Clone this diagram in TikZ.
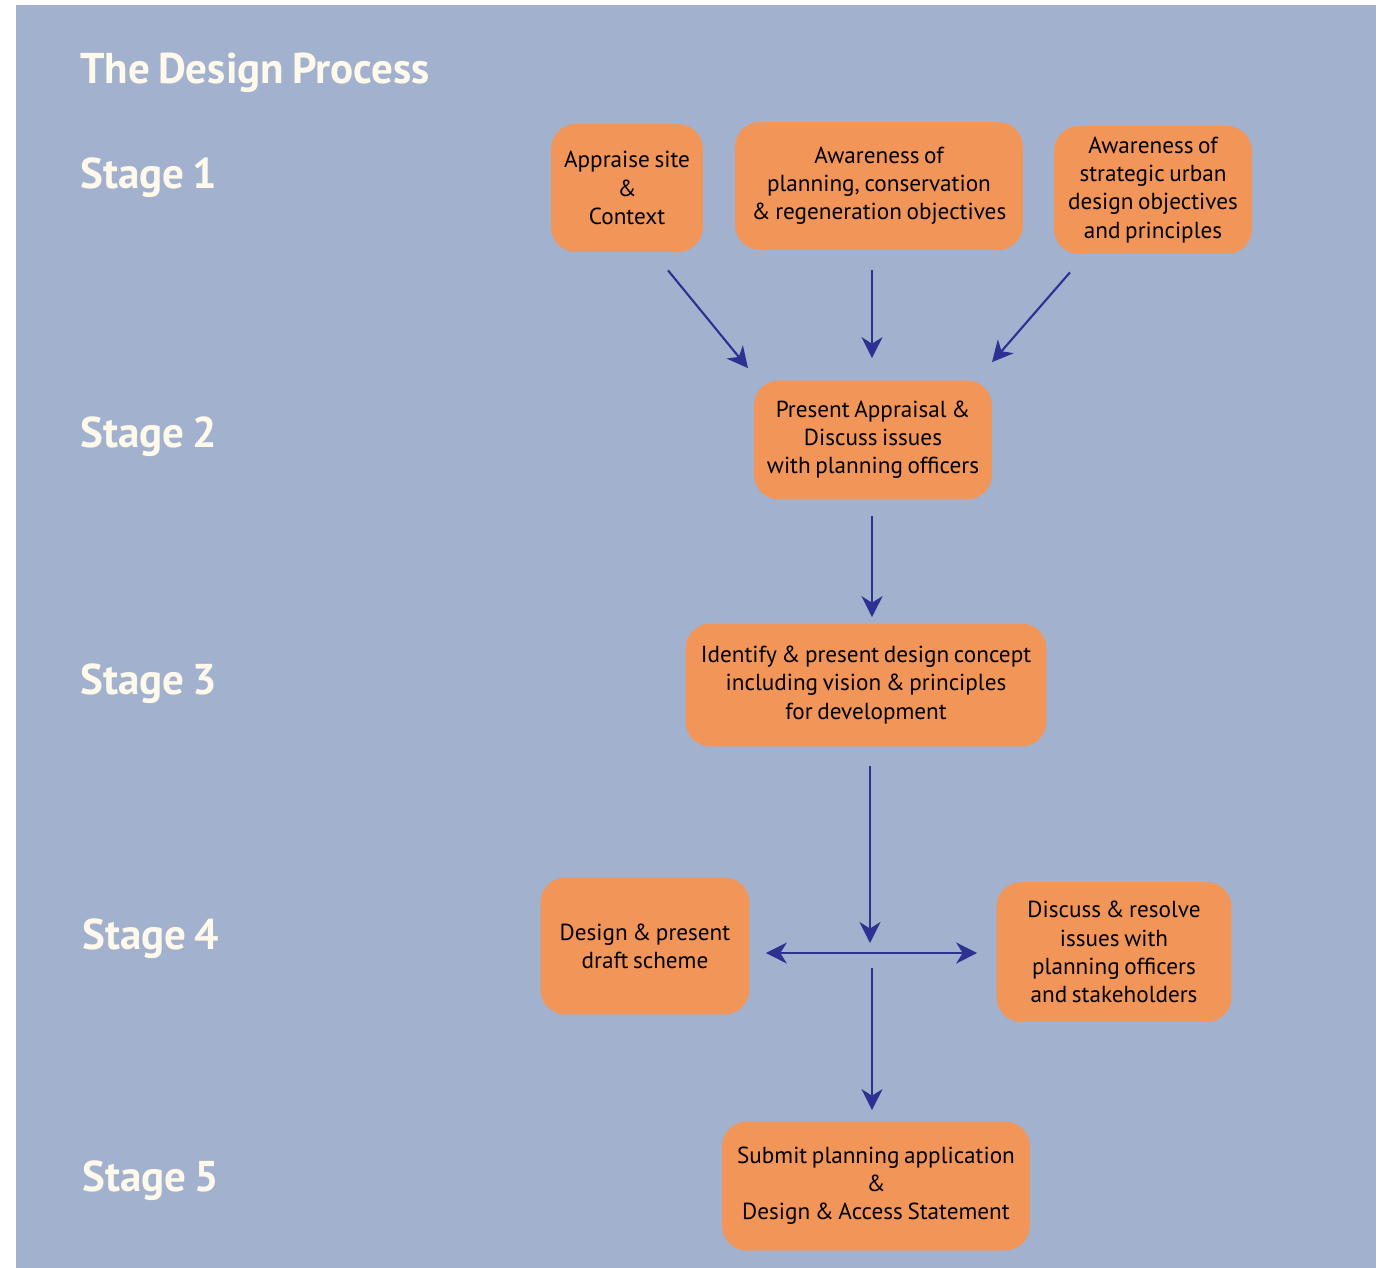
\documentclass[tikz,border=0pt]{standalone}
\usepackage{fontspec}
\setmainfont{PT Sans}[WordSpace=0.75]
\definecolor{backcolor}{HTML}{A2B2CE}
\definecolor{boxcolor}{HTML}{F29559}
\definecolor{arrowcolor}{HTML}{2E3192}
\definecolor{titlecolor}{HTML}{FFF9EC}
\usetikzlibrary{arrows.meta,positioning,calc}
\tikzset{
	block/.style={
		rectangle,
		rounded corners=0.5cm,
		fill=boxcolor,
		align=center,
		font=\fontsize{13.2}{16}\selectfont,
		inner sep=0pt
	},
	stage/.style={
		anchor=west,
		text=titlecolor,
		font=\fontsize{24.5}{30}\selectfont\bfseries
	},
	arrow/.style={
		draw=arrowcolor,
		line width=1.2pt,
		-{Stealth[length=0.42cm,width=0.42cm,inset=0.13cm]}
	},
	dblarrow/.style={
		arrow,
		{Stealth[length=0.42cm,width=0.42cm,inset=0.13cm]}-{Stealth[length=0.42cm,width=0.42cm,inset=0.13cm]}
	},
}
\begin{document}
\begin{tikzpicture}[x=0.02cm,y=-0.02cm]
	\useasboundingbox (0,0) rectangle (1380,1268);
	\fill[backcolor] (16,5) rectangle (1376,1268);
	% titles
	\node (title) [stage] at (74,73) {The Design Process};
	\node (stage1) [stage] at (74,178) {Stage 1};
	\node (stage2) [stage] at (74,437) {Stage 2};
	\node (stage3) [stage] at (74,684) {Stage 3};
	\node (stage4) [stage] at (76,939) {Stage 4};
	\node (stage5) [stage] at (76,1181) {Stage 5};
	% boxes
	\node (appraise) [block,minimum width=3.04cm,minimum height=2.56cm] at (627,188) {Appraise site\\\&\\Context};
	\node (planning) [block,minimum width=5.76cm,minimum height=2.56cm] at (879,186) {Awareness of\\planning, conservation\\\& regeneration objectives};
	\node (strategic) [block,minimum width=3.96cm,minimum height=2.56cm] at (1153,190) {Awareness of\\strategic urban\\design objectives\\and principles};
	\node (present) [block,minimum width=4.76cm,minimum height=2.38cm] at (873,440) {Present Appraisal \&\\Discuss issues\\with planning officers};
	\node (concept) [block,minimum width=7.22cm,minimum height=2.46cm] at (866,685) {Identify \& present design concept\\including vision \& principles\\for development};
	\node (draft) [block,minimum width=4.18cm,minimum height=2.74cm] at (645,946) {Design \& present\\draft scheme};
	\node (resolve) [block,minimum width=4.7cm,minimum height=2.8cm] at (1114,952) {Discuss \& resolve\\issues with\\planning officers\\and stakeholders};
	\node (submit) [block,minimum width=6.16cm,minimum height=2.58cm] at (876,1186) {Submit planning application\\\&\\Design \& Access Statement};
	\coordinate (hub) at (870,953);
	% arrows
	\draw [arrow] ($(appraise.south)+(41,18)$) -- ($(present.north)+(-125,-12)$);
	\draw [arrow] ($(planning.south)+(-7,20)$) -- ($(present.north)+(-1,-22)$);
	\draw [arrow] ($(strategic.south)+(-83,18)$) -- ($(present.north)+(119,-18)$);
	\draw [arrow] ($(present.south)+(-1,16)$) -- ($(concept.north)+(6,-6)$);
	\draw [arrow] ($(concept.south)+(4,19)$) -- ($(hub)+(0,-10)$);
	\draw [dblarrow] ($(draft.east)+(16,7)$) -- ($(resolve.west)+(-19,1)$);
	\draw [arrow] ($(hub)+(2,15)$) -- ($(submit.north)+(-4,-11)$);
\end{tikzpicture}
\end{document}
